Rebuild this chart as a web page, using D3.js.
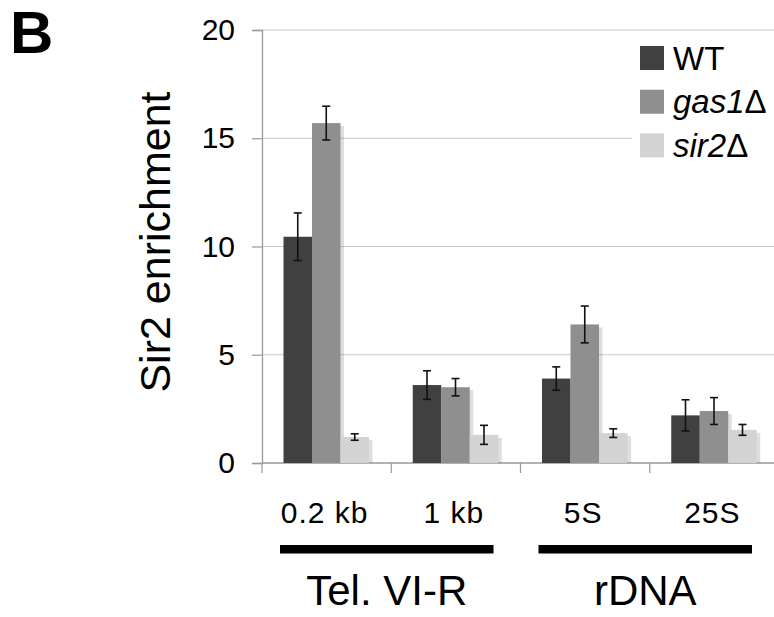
<!DOCTYPE html>
<html>
<head>
<meta charset="utf-8">
<script src="https://cdn.jsdelivr.net/npm/d3@7"></script>
<style>
  body { margin: 0; background: #fff; }
  svg { display: block; font-family: Arial, 'Liberation Sans', sans-serif; }
</style>
</head>
<body>
<svg width="774" height="617"></svg>
<script>
  const categories = ['0.2 kb', '1 kb', '5S', '25S'];
  const series = ['WT', 'gas1Δ', 'sir2Δ'];
  const wtValues = [10.45, 3.6, 3.9, 2.2];
  const gas1Values = [15.7, 3.5, 6.4, 2.4];
  const sir2Values = [1.2, 1.3, 1.38, 1.53];
  const wtErrors = [1.1, 0.66, 0.54, 0.72];
  const gas1Errors = [0.78, 0.4, 0.85, 0.62];
  const sir2Errors = [0.15, 0.44, 0.2, 0.25];
  const yTicks = [0, 5, 10, 15, 20];
  const groups = [
    { name: 'Tel. VI-R', members: ['0.2 kb', '1 kb'] },
    { name: 'rDNA', members: ['5S', '25S'] }
  ];

  const colors = ['#404040', '#8f8f8f', '#d3d3d3'];
  const valueSets = [wtValues, gas1Values, sir2Values];
  const errorSets = [wtErrors, gas1Errors, sir2Errors];

  // flatten into one row per bar
  const rows = [];
  categories.forEach((c, i) => {
    series.forEach((s, j) => {
      rows.push({ cat: c, series: s, idx: j, value: valueSets[j][i], err: errorSets[j][i] });
    });
  });

  const svg = d3.select('svg');

  const y = d3.scaleLinear().domain([0, 20]).range([463, 30]);
  const x0 = d3.scaleBand().domain(categories).range([262, 779]);
  const x1 = d3.scaleBand().domain(series).range([21.5, 107]);

  // gridlines
  svg.append('g')
    .selectAll('line')
    .data(yTicks.filter(d => d > 0))
    .enter().append('line')
      .attr('x1', 262).attr('x2', 774)
      .attr('y1', d => y(d)).attr('y2', d => y(d))
      .attr('stroke', '#c8c8c8')
      .attr('stroke-width', 1.2);

  // y axis
  const yAxis = svg.append('g')
    .attr('transform', 'translate(262,0)')
    .call(d3.axisLeft(y).tickValues(yTicks).tickSize(10).tickPadding(17));
  yAxis.select('.domain').attr('stroke', '#999').attr('stroke-width', 1.3);
  yAxis.selectAll('.tick line').attr('stroke', '#999').attr('stroke-width', 1.2);
  yAxis.selectAll('.tick text')
    .attr('font-size', 30)
    .attr('font-family', 'Arial, Liberation Sans, sans-serif')
    .attr('fill', '#000');

  // x axis: baseline and category separators
  const xg = svg.append('g');
  xg.append('line')
    .attr('x1', 262).attr('x2', 774)
    .attr('y1', y(0)).attr('y2', y(0))
    .attr('stroke', '#999').attr('stroke-width', 1.3);
  xg.selectAll('.sep')
    .data(categories)
    .enter().append('line')
      .attr('class', 'sep')
      .attr('x1', d => x0(d)).attr('x2', d => x0(d))
      .attr('y1', y(0)).attr('y2', y(0) + 10)
      .attr('stroke', '#999').attr('stroke-width', 1.2);

  // bar shadows first, then bars
  const barG = svg.append('g');
  barG.selectAll('.shadow')
    .data(rows)
    .enter().append('rect')
      .attr('class', 'shadow')
      .attr('x', d => x0(d.cat) + x1(d.series) + 3.5)
      .attr('y', d => y(d.value) + 3)
      .attr('width', x1.bandwidth())
      .attr('height', d => y(0) - y(d.value) - 3)
      .attr('fill', '#000')
      .attr('opacity', 0.13);
  barG.selectAll('.bar')
    .data(rows)
    .enter().append('rect')
      .attr('class', 'bar')
      .attr('x', d => x0(d.cat) + x1(d.series))
      .attr('y', d => y(d.value))
      .attr('width', x1.bandwidth())
      .attr('height', d => y(0) - y(d.value))
      .attr('fill', d => colors[d.idx]);

  // error bars
  const errG = svg.append('g').attr('stroke', '#111').attr('stroke-width', 1.6);
  const cx = d => x0(d.cat) + x1(d.series) + x1.bandwidth() / 2;
  rows.forEach(d => {
    const c = cx(d);
    errG.append('line')
      .attr('x1', c).attr('x2', c)
      .attr('y1', y(d.value + d.err)).attr('y2', y(d.value - d.err));
    [d.value + d.err, d.value - d.err].forEach(v => {
      errG.append('line')
        .attr('x1', c - 4).attr('x2', c + 4)
        .attr('y1', y(v)).attr('y2', y(v));
    });
  });

  // category labels
  svg.append('g')
    .selectAll('text')
    .data(categories)
    .enter().append('text')
      .attr('x', d => x0(d) + x0.bandwidth() / 2 - 2)
      .attr('y', 523)
      .attr('text-anchor', 'middle')
      .attr('font-size', 30)
      .attr('letter-spacing', 1)
      .text(d => d);

  // group bars and labels
  const grpG = svg.append('g');
  groups.forEach(g => {
    const left = x0(g.members[0]) + 18;
    const right = x0(g.members[g.members.length - 1]) + x0.bandwidth() - 27;
    grpG.append('rect')
      .attr('x', left).attr('y', 545)
      .attr('width', right - left).attr('height', 8.5)
      .attr('fill', '#000');
    grpG.append('text')
      .attr('x', (left + right) / 2)
      .attr('y', 605)
      .attr('text-anchor', 'middle')
      .attr('font-size', 42)
      .text(g.name);
  });

  // y label
  svg.append('text')
    .attr('transform', 'translate(170,242) rotate(-90)')
    .attr('text-anchor', 'middle')
    .attr('font-size', 43)
    .text('Sir2 enrichment');

  // panel letter
  svg.append('text')
    .attr('x', 10).attr('y', 53)
    .attr('font-size', 60)
    .attr('font-weight', 'bold')
    .text('B');

  // legend
  const legend = svg.append('g');
  legend.append('rect')
    .attr('x', 632).attr('y', 37)
    .attr('width', 142).attr('height', 128)
    .attr('fill', '#fff');
  const items = legend.selectAll('.item')
    .data(series)
    .enter().append('g')
      .attr('class', 'item')
      .attr('transform', (d, i) => `translate(640, ${46 + i * 43.7})`);
  items.append('rect')
    .attr('width', 24).attr('height', 24)
    .attr('fill', (d, i) => colors[i]);
  const labels = items.append('text')
    .attr('x', 33).attr('y', 23.5)
    .attr('font-size', 33);
  // gene names italic, the delta sign upright
  labels.append('tspan')
    .attr('font-style', (d, i) => i === 0 ? 'normal' : 'italic')
    .text(d => d.replace('Δ', ''));
  labels.filter(d => d.includes('Δ')).append('tspan')
    .text('Δ');
</script>
</body>
</html>
